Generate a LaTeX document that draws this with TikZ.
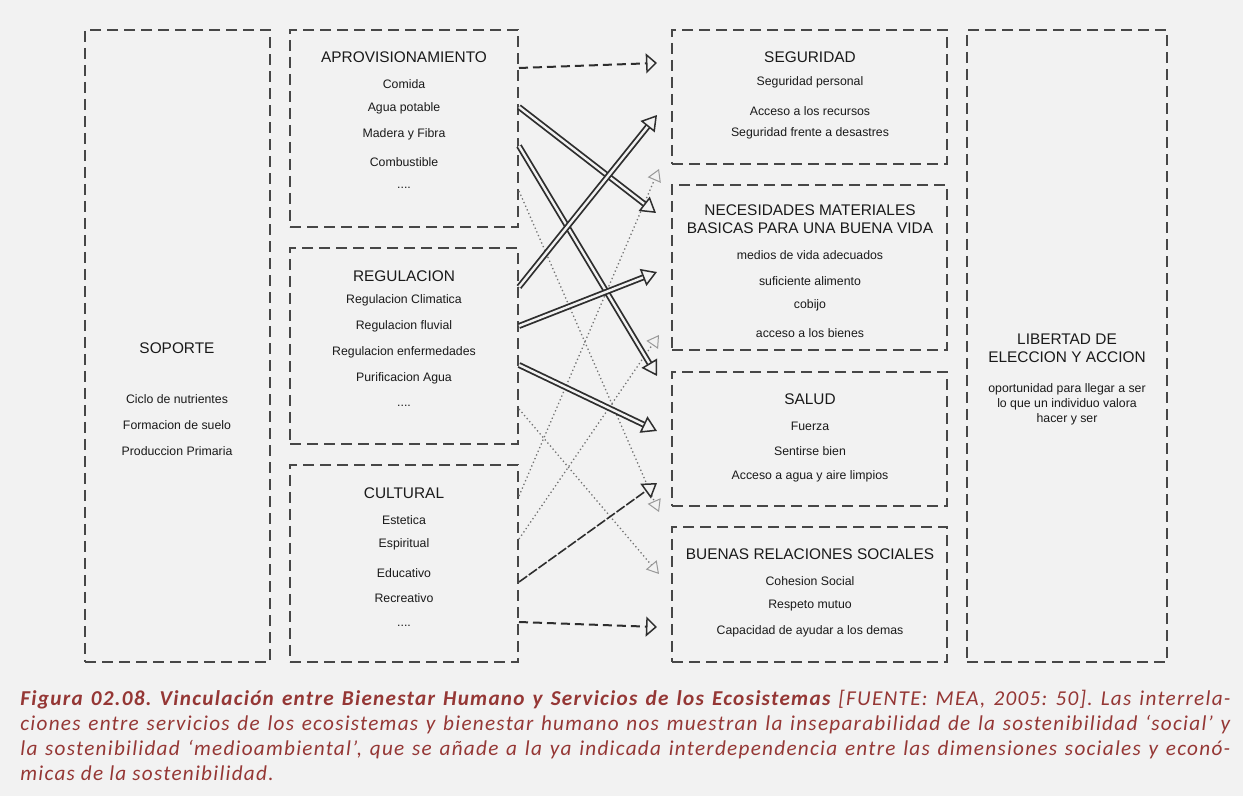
\documentclass[tikz,border=0pt]{standalone}
\usepackage{fontspec}
\setmainfont{Liberation Sans}
\newfontfamily\capfont[LetterSpace=6]{Carlito}
\usepackage{xcolor}
\usetikzlibrary{
    calc,
    fit,
    arrows.meta
}
\definecolor{bg}{HTML}{F2F2F2}
\definecolor{ink}{HTML}{2E2E2E}
\definecolor{type}{HTML}{1A1A1A}
\definecolor{frame}{HTML}{474747}
\definecolor{capred}{HTML}{953735}
\newcommand\moredots{....}
\tikzset{
    % dashed frame round each group of services
    group/.style={draw=frame, line width=1pt, dash pattern=on 5.5pt off 3pt, inner sep=0pt},
    head/.style={font=\fontsize{7.7}{9}\selectfont, text=type, align=center},
    item/.style={font=\fontsize{6.15}{7.5}\selectfont, text=type, align=center},
    % kinds of link
    strong/.style={draw=ink, line width=0.9pt, double=bg, double distance=1.2pt,
        -{Triangle[fill=bg, length=7.5pt, width=9pt, line width=0.75pt]}},
    medium/.style={draw=ink, line width=1pt, dash pattern=on 4.5pt off 2.5pt,
        -{Triangle[fill=bg, length=5.5pt, width=10pt, line width=0.75pt]}},
    weak/.style={draw=ink, line width=0.8pt, dash pattern=on 5pt off 1pt,
        -{Triangle[fill=bg, length=7pt, width=9pt, line width=0.75pt]}},
    faint/.style={draw=black!55, line width=0.65pt, dash pattern=on 0.65pt off 1.35pt,
        -{Triangle[color=black!40, fill=bg, length=6pt, width=7pt, line width=0.5pt]}}
}
\begin{document}
\begin{tikzpicture}[x=0.5pt, y=-0.5pt]
    \fill[bg] (0,0) rectangle (1243,796);
    % frames
    \node[group, fit={(85,30) (270,662)}] (sopo) {};
    \node[group, fit={(290,30) (518,227)}] (apro) {};
    \node[group, fit={(290,248) (518,444)}] (regu) {};
    \node[group, fit={(290,465) (518,662)}] (cult) {};
    \node[group, fit={(672,30) (947,164)}] (segu) {};
    \node[group, fit={(672,185) (947,350)}] (nece) {};
    \node[group, fit={(672,372) (947,506)}] (salu) {};
    \node[group, fit={(672,527) (947,662)}] (buen) {};
    \node[group, fit={(967,30) (1167,662)}] (libe) {};

    % services
    \node[head] (sopo-t) at (177,348) {SOPORTE};
    \foreach \t/\y [count=\i] in {Ciclo de nutrientes/399, Formacion de suelo/425, Produccion Primaria/451}
        \node[item] (sopo-\i) at (177,\y) {\t};
    \node[head] (apro-t) at (404,57) {APROVISIONAMIENTO};
    \foreach \t/\y [count=\i] in {Comida/84, Agua potable/108, Madera y Fibra/134, Combustible/162, \moredots/188}
        \node[item] (apro-\i) at (404,\y) {\t};
    \node[head] (regu-t) at (404,276) {REGULACION};
    \foreach \t/\y [count=\i] in {Regulacion Climatica/300, Regulacion fluvial/326, Regulacion enfermedades/352, Purificacion Agua/378, \moredots/406}
        \node[item] (regu-\i) at (404,\y) {\t};
    \node[head] (cult-t) at (404,493) {CULTURAL};
    \foreach \t/\y [count=\i] in {Estetica/520, Espiritual/544, Educativo/573, Recreativo/598, \moredots/626}
        \node[item] (cult-\i) at (404,\y) {\t};

    % well-being
    \node[head] (segu-t) at (810,57) {SEGURIDAD};
    \foreach \t/\y [count=\i] in {Seguridad personal/82, Acceso a los recursos/111, Seguridad frente a desastres/133}
        \node[item] (segu-\i) at (810,\y) {\t};
    \node[head] (nece-t) at (810,219) {NECESIDADES MATERIALES\\BASICAS PARA UNA BUENA VIDA};
    \foreach \t/\y [count=\i] in {medios de vida adecuados/255, suficiente alimento/281, cobijo/305, acceso a los bienes/333}
        \node[item] (nece-\i) at (810,\y) {\t};
    \node[head] (salu-t) at (810,399) {SALUD};
    \foreach \t/\y [count=\i] in {Fuerza/426, Sentirse bien/451, Acceso a agua y aire limpios/476}
        \node[item] (salu-\i) at (810,\y) {\t};
    \node[head] (buen-t) at (810,554) {BUENAS RELACIONES SOCIALES};
    \foreach \t/\y [count=\i] in {Cohesion Social/581, Respeto mutuo/606, Capacidad de ayudar a los demas/631}
        \node[item] (buen-\i) at (810,\y) {\t};
    \node[head] (libe-t) at (1067,348) {LIBERTAD DE\\ELECCION Y ACCION};
    \node[item] (libe-1) at (1067,404) {oportunidad para llegar a ser\\lo que un individuo valora\\hacer y ser};

    % link end points
    \foreach \n/\b/\dy in {s1/apro/39, s2/apro/78, s3/apro/117, s4/regu/40, s5/regu/79, s6/regu/118,
                          s7/cult/118, s8/cult/158, s9/apro/162, s10/regu/162, s11/cult/32, s12/cult/75}
        \coordinate (\n) at ($(\b.north east)+(0,\dy)$);
    \foreach \n/\b/\dx/\dy in {e1/segu/-14/34, e2/nece/-15/29, e3/salu/-14/5, e4/segu/-14/86, e5/nece/-14/88,
                               e6/salu/-14/60, e7/salu/-14/112, e8/buen/-14/101, e9/buen/-12/-14,
                               e10/buen/-12/48, e11/nece/-12/-15, e12/nece/-12/151}
        \coordinate (\n) at ($(\b.north west)+(\dx,\dy)$);

    \foreach \i in {9,10,11,12}
        \draw[faint] (s\i) -- (e\i);
    \foreach \i in {2,3,4,5,6}
        \draw[strong] (s\i) -- (e\i);
    \draw[medium] (s1) -- (e1);
    \draw[medium] (s8) -- (e8);
    \draw[weak] (s7) -- (e7);

    % caption
    \node[anchor=north west, inner sep=0pt, text width=605pt, align=justify, text=capred,
          font=\capfont\fontsize{10.6}{12.5}\selectfont\itshape] (cap) at (20,690)
        {\hyphenpenalty=10000\relax\frenchspacing
         {\bfseries Figura 02.08. Vinculación entre Bienestar Humano y Servicios de los Ecosistemas} [FUENTE: MEA, 2005: 50]. Las interrela-\linebreak
         ciones entre servicios de los ecosistemas y bienestar humano nos muestran la inseparabilidad de la sostenibilidad ‘social’ y\linebreak
         la sostenibilidad ‘medioambiental’, que se añade a la ya indicada interdependencia entre las dimensiones sociales y econó-\linebreak
         micas de la sostenibilidad.};
\end{tikzpicture}
\end{document}
